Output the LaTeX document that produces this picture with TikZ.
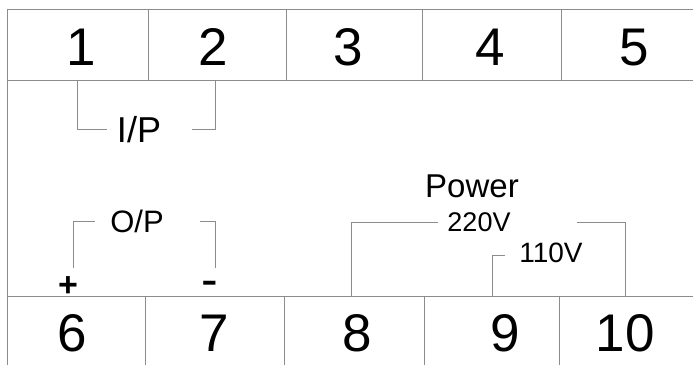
\documentclass[tikz,border=0pt]{standalone}
\usepackage{fontspec}
\setmainfont{Liberation Sans}
\usetikzlibrary{positioning}
\definecolor{rulegray}{RGB}{140,140,140}
\tikzset{
  frame/.style={draw=rulegray,line width=1pt},
  wire/.style={draw=rulegray,line width=1pt},
  termnum/.style={anchor=base,inner sep=0pt,font=\fontsize{53}{53}\selectfont},
  lbl/.style={anchor=base,inner sep=0pt,font=\fontsize{#1}{#1}\selectfont},
}
\begin{document}
\begin{tikzpicture}[x=1pt,y=-1pt]
  \useasboundingbox (0,0) rectangle (693,365);
  % terminal strip
  \draw[frame] (693,9) -- (7,9) -- (7,365);
  \draw[frame] (7,80) -- (693,80);
  \draw[frame] (7,296) -- (693,296);
  \foreach \x in {148,286,422,561}
  \draw[frame] (\x,9) -- (\x,80);
  \foreach \x in {145,284,424,559}
  \draw[frame] (\x,296) -- (\x,365);
  \foreach \n/\x in {1/81,2/213,3/348,4/490,5/634}
  \node[termnum] (t\n) at (\x,65) {\n};
  \foreach \n/\x in {6/72,7/214,8/357,9/505,10/625}
  \node[termnum] (t\n) at (\x,351) {\n};
  % input
  \node[lbl=36] (ip) at (139,142) {I/P};
  \coordinate (ipa) at (77,80);
  \coordinate (ipb) at (215,80);
  \coordinate (ipc) at (107,129);
  \coordinate (ipd) at (192,129);
  \draw[wire] (ipa) |- (ipc);
  \draw[wire] (ipb) |- (ipd);
  % output
  \node[lbl=31] (op) at (137,232) {O/P};
  \node[lbl=34] (plus) at (68,296) {\bfseries +};
  \node[lbl=50] (minus) at (210,296) {-};
  \coordinate (opa) at (73,268);
  \coordinate (opb) at (215,268);
  \coordinate (opc) at (95,221);
  \coordinate (opd) at (200,221);
  \draw[wire] (opa) |- (opc);
  \draw[wire] (opb) |- (opd);
  % power
  \node[lbl=33] (pw) at (472,197) {Power};
  \node[lbl=27] (hv) at (479,231) {220V};
  \node[lbl=28] (lv) at (551,262) {110V};
  \coordinate (pwa) at (351,296);
  \coordinate (pwb) at (625,296);
  \coordinate (pwc) at (438,222);
  \coordinate (pwd) at (577,222);
  \coordinate (lva) at (492,296);
  \coordinate (lvc) at (505,255);
  \draw[wire] (pwa) |- (pwc);
  \draw[wire] (pwb) |- (pwd);
  \draw[wire] (lva) |- (lvc);
\end{tikzpicture}
\end{document}
